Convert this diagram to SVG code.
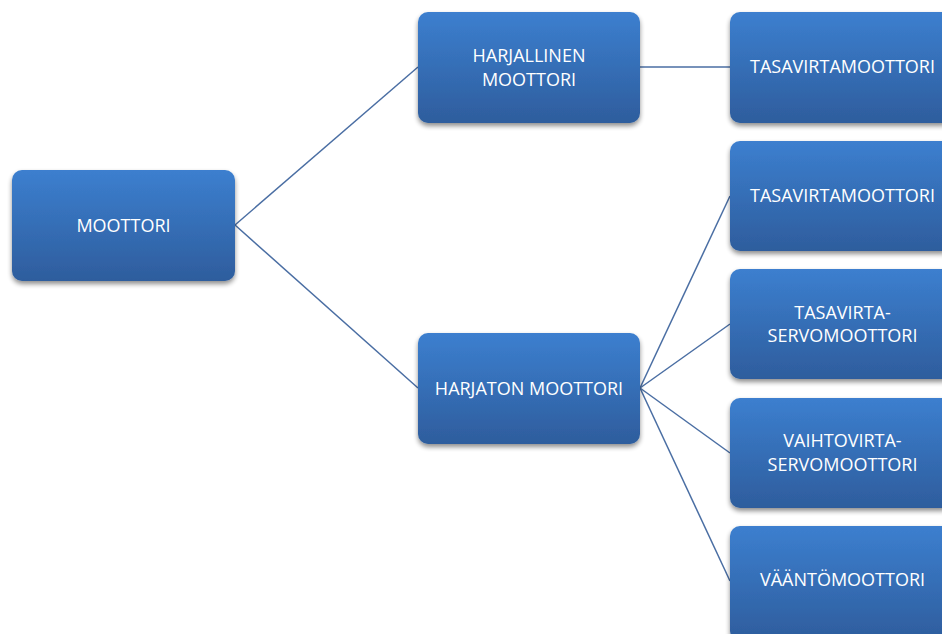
<svg xmlns="http://www.w3.org/2000/svg" width="942" height="634" viewBox="0 0 942 634">
<defs>
<linearGradient id="g" x1="0" y1="0" x2="0" y2="1">
<stop offset="0" stop-color="#3c7fcf"/>
<stop offset="1" stop-color="#2e5d9d"/>
</linearGradient>
<filter id="sh" x="-10%" y="-10%" width="120%" height="130%">
<feGaussianBlur in="SourceAlpha" stdDeviation="2.5"/>
<feOffset dx="0" dy="3" result="b"/>
<feComponentTransfer><feFuncA type="linear" slope="0.45"/></feComponentTransfer>
<feMerge><feMergeNode/><feMergeNode in="SourceGraphic"/></feMerge>
</filter>
</defs>
<style>
.box{fill:url(#g);filter:url(#sh)}
.t{font-family:"Open Sans","Liberation Sans",sans-serif;font-size:18px;fill:#fff;text-anchor:middle}
.c{stroke:#4a6ea3;stroke-width:1.5;fill:none}
</style>
<rect width="942" height="634" fill="#fff"/>
<g id="connectors">
<line class="c" x1="235" y1="225" x2="418" y2="67"/>
<line class="c" x1="235" y1="225" x2="418" y2="388"/>
<line class="c" x1="640" y1="67" x2="730" y2="67"/>
<line class="c" x1="640" y1="388" x2="730" y2="196"/>
<line class="c" x1="640" y1="388" x2="730" y2="324"/>
<line class="c" x1="640" y1="388" x2="730" y2="453"/>
<line class="c" x1="640" y1="388" x2="730" y2="581"/>
</g>
<g id="n-moottori"><rect class="box" x="12" y="170" width="223" height="111" rx="10"/><text class="t" x="123.5" y="232">MOOTTORI</text></g>
<g id="n-harjallinen"><rect class="box" x="418" y="12" width="222" height="111" rx="10"/><text class="t" x="529" y="62">HARJALLINEN</text><text class="t" x="529" y="85.5">MOOTTORI</text></g>
<g id="n-harjaton"><rect class="box" x="418" y="333" width="222" height="111" rx="10"/><text class="t" x="529" y="395">HARJATON MOOTTORI</text></g>
<g id="n-tasa1"><rect class="box" x="730" y="12" width="222" height="111" rx="10"/><text class="t" x="842.5" y="73">TASAVIRTAMOOTTORI</text></g>
<g id="n-tasa2"><rect class="box" x="730" y="141" width="222" height="110" rx="10"/><text class="t" x="842.5" y="201.5">TASAVIRTAMOOTTORI</text></g>
<g id="n-tasaservo"><rect class="box" x="730" y="269" width="222" height="110" rx="10"/><text class="t" x="842.5" y="318.5">TASAVIRTA-</text><text class="t" x="842.5" y="342">SERVOMOOTTORI</text></g>
<g id="n-vaihtoservo"><rect class="box" x="730" y="398" width="222" height="110" rx="10"/><text class="t" x="842.5" y="447">VAIHTOVIRTA-</text><text class="t" x="842.5" y="470.5">SERVOMOOTTORI</text></g>
<g id="n-vaanto"><rect class="box" x="730" y="526" width="222" height="115" rx="10"/><text class="t" x="842.5" y="586">VÄÄNTÖMOOTTORI</text></g>
</svg>
